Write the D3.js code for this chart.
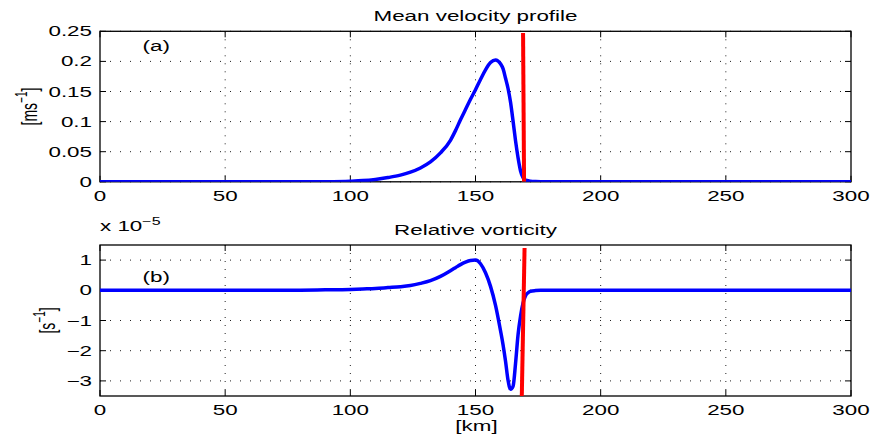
<!DOCTYPE html>
<html>
<head>
<meta charset="utf-8">
<script src="https://cdn.jsdelivr.net/npm/d3@7"></script>
<style>
  body { margin: 0; background: #fff; }
  text { font-family: "Liberation Sans", Arial, sans-serif; fill: #000; }
</style>
</head>
<body>
<script>
// distance across the front [km]
var xKm = [0, 50, 80, 90, 100, 105, 110, 115, 120, 124, 128, 132, 136, 140, 142, 144, 146, 148,
           150, 152, 154, 156, 158, 160, 161, 162, 163, 164, 165, 166, 167, 168, 169, 170,
           171, 172, 174, 176, 180, 200, 250, 300];
// mean velocity [m/s]
var velocity = [0, 0, 0, 0.0002, 0.001, 0.002, 0.004, 0.007, 0.011, 0.016, 0.023, 0.033, 0.048, 0.069,
                0.085, 0.103, 0.120, 0.137, 0.153, 0.170, 0.186, 0.198, 0.2025, 0.196, 0.188, 0.172,
                0.155, 0.132, 0.101, 0.068, 0.040, 0.018, 0.007, 0.003, 0.002, 0.001, 0.0005, 0.0002,
                0, 0, 0, 0];
// relative vorticity [x 1e-5 1/s]
var vorticity = [0, 0, 0.005, 0.015, 0.03, 0.045, 0.06, 0.09, 0.12, 0.16, 0.23, 0.32, 0.46, 0.65,
                 0.75, 0.85, 0.93, 0.985, 1.0, 0.88, 0.58, 0.13, -0.5, -1.34, -1.8, -2.35, -2.98,
                 -3.28, -3.18, -2.42, -1.47, -0.85, -0.42, -0.18, -0.08, -0.03, -0.01, 0, 0, 0, 0, 0];
// front position (red line)
var frontX = [169.0, 169.4], frontVel = [0.247, 0];
var frontX2 = [169.6, 168.5], frontVort = [1.4, -3.5];

var xTicks = [0, 50, 100, 150, 200, 250, 300];
var velTicks = [0, 0.05, 0.1, 0.15, 0.2, 0.25];
var vortTicks = [-3, -2, -1, 0, 1];

var W = 871, H = 439;
var SX = 1.6; // the original figure is stretched sideways
var svg = d3.select("body").append("svg").attr("width", W).attr("height", H);

var x = d3.scaleLinear().domain([0, 300]).range([100, 851]);

function label(parent, px, py, anchor, rot) {
  return parent.append("text")
      .attr("transform", "translate(" + px + "," + py + ")scale(" + SX + ",1)" + (rot ? "rotate(-90)" : ""))
      .attr("text-anchor", anchor).style("font-size", "14px");
}

function panel(opt) {
  var y = d3.scaleLinear().domain(opt.domain).range([opt.bottom, opt.top]);
  var g = svg.append("g");
  var id = "clip" + opt.name;
  svg.append("clipPath").attr("id", id).append("rect")
      .attr("x", 100).attr("y", opt.top).attr("width", 751).attr("height", opt.bottom - opt.top);

  // dotted grid
  g.selectAll(".gx").data(xTicks.slice(1, -1)).enter().append("line")
      .attr("x1", function(d) { return x(d); }).attr("x2", function(d) { return x(d); })
      .attr("y1", opt.top).attr("y2", opt.bottom)
      .attr("stroke", "#222").attr("stroke-width", 1).attr("stroke-dasharray", "1,7");
  g.selectAll(".gy").data(opt.ticks).enter().append("line")
      .attr("x1", 100).attr("x2", 851)
      .attr("y1", function(d) { return y(d); }).attr("y2", function(d) { return y(d); })
      .attr("stroke", "#222").attr("stroke-width", 1).attr("stroke-dasharray", "1,9");

  // frame + inner ticks
  g.append("rect").attr("x", 100).attr("y", opt.top).attr("width", 751).attr("height", opt.bottom - opt.top)
      .attr("fill", "none").attr("stroke", "#000").attr("stroke-width", 1.3);
  xTicks.forEach(function(d) {
    g.append("line").attr("x1", x(d)).attr("x2", x(d)).attr("y1", opt.bottom).attr("y2", opt.bottom - 6).attr("stroke", "#000");
    g.append("line").attr("x1", x(d)).attr("x2", x(d)).attr("y1", opt.top).attr("y2", opt.top + 6).attr("stroke", "#000");
  });
  opt.ticks.forEach(function(d) {
    g.append("line").attr("x1", 100).attr("x2", 106).attr("y1", y(d)).attr("y2", y(d)).attr("stroke", "#000");
    g.append("line").attr("x1", 845).attr("x2", 851).attr("y1", y(d)).attr("y2", y(d)).attr("stroke", "#000");
  });

  // tick labels
  xTicks.forEach(function(d) {
    label(g, x(d), opt.bottom + 19, "middle").text(d);
  });
  opt.ticks.forEach(function(d) {
    label(g, 92, y(d) + 5, "end").text(d < 0 ? "\u2212" + Math.abs(d) : d);
  });

  // title
  label(g, 475.5, opt.top - 10, "middle").text(opt.title);

  // y label, rotated
  var yl = label(g, opt.ylabX, (opt.top + opt.bottom) / 2, "middle", true);
  yl.append("tspan").text(opt.unit);
  yl.append("tspan").attr("dy", -6).style("font-size", "10px").text("\u22121");
  yl.append("tspan").attr("dy", 6).text("]");

  // panel letter
  label(g, x(17), y(opt.letterY) + 5, "start").text(opt.letter);

  var line = d3.line().x(function(d) { return x(d[0]); }).y(function(d) { return y(d[1]); });
  g.append("path").datum(d3.zip(xKm, opt.values))
      .attr("clip-path", "url(#" + id + ")")
      .attr("d", line.curve(d3.curveMonotoneX))
      .attr("fill", "none").attr("stroke", "#0000ff").attr("stroke-width", 3.5).attr("stroke-linejoin", "round");
  g.append("path").datum(d3.zip(opt.frontX, opt.front))
      .attr("clip-path", "url(#" + id + ")")
      .attr("d", line.curve(d3.curveLinear))
      .attr("fill", "none").attr("stroke", "#ff0000").attr("stroke-width", 4);
  return y;
}

panel({ name: "a", domain: [0, 0.25], top: 31.3, bottom: 181.8, ticks: velTicks, values: velocity,
        frontX: frontX, front: frontVel, title: "Mean velocity profile", unit: "[ms", ylabX: 37,
        letter: "(a)", letterY: 0.225 });
panel({ name: "b", domain: [-3.5, 1.5], top: 245, bottom: 396, ticks: vortTicks, values: vorticity,
        frontX: frontX2, front: frontVort, title: "Relative vorticity", unit: "[s", ylabX: 54.5,
        letter: "(b)", letterY: 0.43 });

// exponent label
var ex = label(svg, 100, 231, "start");
ex.append("tspan").text("x 10");
ex.append("tspan").attr("dy", -6).style("font-size", "10px").text("\u22125");

label(svg, 476.5, 431, "middle").text("[km]");
</script>
</body>
</html>
